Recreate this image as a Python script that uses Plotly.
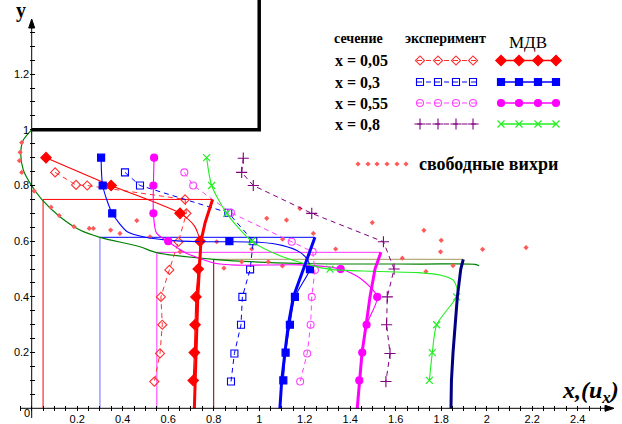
import plotly.graph_objects as go

# ---------------- data ----------------
LEVELS = [0.9, 0.8, 0.7, 0.6, 0.5, 0.4, 0.3, 0.2, 0.1]

MDV_005_X = [0.063, 0.349, 0.652, 0.740, 0.732, 0.722, 0.718, 0.715, 0.710]
MDV_03_X = [0.305, 0.312, 0.354, 0.869, 1.223, 1.157, 1.135, 1.116, 1.106]
MDV_055_X = [0.538, 0.535, 0.535, 0.600, 1.358, 1.519, 1.472, 1.453, 1.440]
MDV_08_X = [0.769, 0.791, 0.857, 0.967, 1.311, 1.868, 1.780, 1.761, 1.748]

MDV_005_CX = [0.063, 0.349, 0.652, 0.715, 0.740, 0.732, 0.722, 0.718, 0.715, 0.710]
MDV_005_CY = [0.900, 0.800, 0.700, 0.655, 0.600, 0.500, 0.400, 0.300, 0.200, 0.100]
MDV_03_CX = [0.305, 0.312, 0.354, 0.420, 0.490, 0.593, 0.740, 0.869, 1.000, 1.100, 1.180, 1.215, 1.223, 1.157, 1.135, 1.116, 1.106]
MDV_03_CY = [0.900, 0.800, 0.700, 0.634, 0.616, 0.604, 0.598, 0.598, 0.596, 0.585, 0.560, 0.530, 0.500, 0.400, 0.300, 0.200, 0.100]
MDV_055_CX = [0.538, 0.535, 0.535, 0.548, 0.600, 0.680, 0.800, 0.900, 1.180, 1.358, 1.444, 1.519, 1.472, 1.453, 1.440]
MDV_055_CY = [0.900, 0.800, 0.700, 0.630, 0.598, 0.557, 0.522, 0.514, 0.515, 0.500, 0.467, 0.400, 0.300, 0.200, 0.100]
MDV_08_CX = [0.769, 0.791, 0.857, 0.967, 1.100, 1.220, 1.311, 1.500, 1.700, 1.800, 1.853, 1.871, 1.868, 1.780, 1.761, 1.748]
MDV_08_CY = [0.900, 0.800, 0.700, 0.600, 0.545, 0.515, 0.499, 0.492, 0.487, 0.478, 0.460, 0.425, 0.400, 0.300, 0.200, 0.100]

EXP_005_X = [0.103, 0.195, 0.244, 0.674, 0.680, 0.645, 0.605, 0.568, 0.574, 0.564, 0.539]
EXP_005_Y = [0.847, 0.802, 0.800, 0.750, 0.700, 0.598, 0.497, 0.400, 0.300, 0.197, 0.096]
EXP_03_X = [0.410, 0.476, 0.864, 0.974, 0.960, 0.926, 0.920, 0.891, 0.876]
EXP_03_Y = [0.847, 0.800, 0.702, 0.600, 0.499, 0.400, 0.300, 0.197, 0.096]
EXP_055_X = [0.671, 0.710, 0.876, 1.143, 1.235, 1.245, 1.231, 1.226, 1.211, 1.180]
EXP_055_Y = [0.847, 0.800, 0.702, 0.598, 0.562, 0.497, 0.400, 0.300, 0.197, 0.096]
EXP_08_X = [0.930, 0.923, 0.974, 1.231, 1.546, 1.593, 1.563, 1.560, 1.575, 1.557]
EXP_08_Y = [0.898, 0.847, 0.800, 0.700, 0.598, 0.500, 0.400, 0.300, 0.197, 0.096]

PROF_005_X = [0.715, 0.718, 0.722, 0.726, 0.730, 0.737, 0.744, 0.762, 0.781, 0.795]
PROF_005_Y = [0.000, 0.100, 0.200, 0.300, 0.400, 0.500, 0.600, 0.666, 0.712, 0.750]
PROF_03_X = [1.091, 1.099, 1.113, 1.128, 1.150, 1.194, 1.245]
PROF_03_Y = [0.000, 0.100, 0.200, 0.300, 0.400, 0.500, 0.614]
PROF_055_X = [1.431, 1.440, 1.452, 1.470, 1.487, 1.509, 1.535]
PROF_055_Y = [0.000, 0.100, 0.200, 0.300, 0.400, 0.500, 0.560]
PROF_08_X = [1.843, 1.845, 1.852, 1.860, 1.871, 1.886, 1.897]
PROF_08_Y = [0.000, 0.100, 0.200, 0.300, 0.400, 0.500, 0.535]

SECTIONS = [0.05, 0.3, 0.55, 0.8]
SECTION_TOPS = [0.750, 0.614, 0.560, 0.535]
SECTION_ENDS = [0.795, 1.245, 1.535, 1.897]

STREAM_X = [0.0, -0.037, -0.048, -0.037, -0.007, 0.044, 0.124, 0.212, 0.300, 0.476, 0.549, 0.800, 1.180, 1.707, 1.949, 1.967]
STREAM_Y = [1.0, 0.963, 0.916, 0.856, 0.808, 0.750, 0.688, 0.640, 0.614, 0.580, 0.559, 0.535, 0.520, 0.518, 0.517, 0.512]

WALL_X = [0.0, 1.0, 1.0]
WALL_Y = [1.0, 1.0, 1.47]

VORT_X = [-0.044, -0.051, -0.054, -0.044, 0.011, 0.085, 0.121, 0.186, 0.253, 0.271, 0.347, 0.388, 0.462, 0.520,
          0.652, 0.813, 0.845, 0.923, 0.967, 1.040, 1.033, 1.120, 1.102, 1.103, 1.179, 1.238, 1.336, 1.497,
          1.629, 1.724, 1.800, 1.797, 1.733, 1.852, 1.982, 2.173]
VORT_Y = [0.954, 0.919, 0.889, 0.847, 0.780, 0.722, 0.692, 0.652, 0.646, 0.646, 0.640, 0.628, 0.674, 0.616,
          0.562, 0.598, 0.503, 0.526, 0.572, 0.526, 0.682, 0.676, 0.511, 0.607, 0.717, 0.628, 0.572, 0.667,
          0.539, 0.639, 0.603, 0.562, 0.491, 0.512, 0.571, 0.577]

X_TICK_VALUES = [0.2, 0.4, 0.6, 0.8, 1.0, 1.2, 1.4, 1.6, 1.8, 2.0, 2.2, 2.4]
X_TICK_LABELS = ["0.2", "0.4", "0.6", "0.8", "1", "1.2", "1.4", "1.6", "1.8", "2", "2.2", "2.4"]
Y_TICK_VALUES = [0.2, 0.4, 0.6, 0.8, 1.0, 1.2]
Y_TICK_LABELS = ["0.2", "0.4", "0.6", "0.8", "1", "1.2"]

LEGEND_SECTIONS = ["x = 0,05", "x = 0,3", "x = 0,55", "x = 0,8"]

# ---------------- layout geometry ----------------
W, H = 622, 424
X0_PX, X_SCALE = 31.7, 227.5
Y0_PX, Y_SCALE = 408.3, 278.5


def xr(px):
    return (px - X0_PX) / X_SCALE


def yr(py):
    return (Y0_PX - py) / Y_SCALE


SERIF = "Liberation Serif, Times New Roman, serif"
SANS = "Liberation Sans, Arial, sans-serif"

RED, BLUE, MAG, PURP, GREEN = "#ff0000", "#0000ff", "#ff00ff", "#800080", "#22ee22"
EXP_RED, EXP_MAG = "#ff3030", "#ff40ff"
DASH = "5px,4px"

fig = go.Figure()

vcols = ["#ff0000", "#6a6aff", "#ff33ff", "#800000"]
hcols = ["#ff0000", "#0000ff", "#ff33ff", "#a09a55"]
for s, t, e, vc, hc in zip(SECTIONS, SECTION_TOPS, SECTION_ENDS, vcols, hcols):
    fig.add_trace(go.Scatter(x=[s, s], y=[0, t], mode="lines", line=dict(color=vc, width=1)))
    fig.add_trace(go.Scatter(x=[s, e], y=[t, t], mode="lines", line=dict(color=hc, width=1)))

fig.add_trace(go.Scatter(x=STREAM_X, y=STREAM_Y, mode="lines",
                         line=dict(color="#008000", width=1.2, shape="spline", smoothing=0.8)))

fig.add_trace(go.Scatter(x=VORT_X, y=VORT_Y, mode="markers",
                         marker=dict(symbol="diamond", size=4, color="#ff5a5a")))

exp_specs = [
    (EXP_005_X, EXP_005_Y, EXP_RED, "diamond-open", 7),
    (EXP_03_X, EXP_03_Y, BLUE, "square-open", 7),
    (EXP_055_X, EXP_055_Y, EXP_MAG, "circle-open", 7),
    (EXP_08_X, EXP_08_Y, PURP, "cross-thin-open", 8),
]
for xs, ys, c, sym, sz in exp_specs:
    fig.add_trace(go.Scatter(x=xs, y=ys, mode="lines+markers",
                             line=dict(color=c, width=1, dash=DASH),
                             marker=dict(symbol=sym, size=sz, color=c, line=dict(color=c, width=1.1))))

mdv_specs = [
    (MDV_005_CX, MDV_005_CY, MDV_005_X, RED, "diamond", 8),
    (MDV_03_CX, MDV_03_CY, MDV_03_X, BLUE, "square", 7),
    (MDV_055_CX, MDV_055_CY, MDV_055_X, MAG, "circle", 7),
    (MDV_08_CX, MDV_08_CY, MDV_08_X, GREEN, "x-thin-open", 7),
]
for cx, cy, mx, c, sym, sz in mdv_specs:
    fig.add_trace(go.Scatter(x=cx, y=cy, mode="lines",
                             line=dict(color=c, width=1.1, shape="spline", smoothing=0.7)))
    fig.add_trace(go.Scatter(x=mx, y=LEVELS, mode="markers",
                             marker=dict(symbol=sym, size=sz, color=c, line=dict(color=c, width=1.2))))

for xs, ys, c in [(PROF_005_X, PROF_005_Y, RED), (PROF_03_X, PROF_03_Y, BLUE),
                  (PROF_055_X, PROF_055_Y, MAG), (PROF_08_X, PROF_08_Y, "#000080")]:
    fig.add_trace(go.Scatter(x=xs, y=ys, mode="lines", line=dict(color=c, width=3)))

fig.add_trace(go.Scatter(x=WALL_X, y=WALL_Y, mode="lines", line=dict(color="black", width=3.5)))

# ---------------- legend drawn on a pixel overlay axis ----------------
LEG_ROWS_Y = [60.5, 82, 103, 124]
LEG_EXP_X = [420, 438, 456, 473]
LEG_EXP_LINE = [417, 477]
LEG_MDV_X = [501, 519, 538, 556]
LEG_MDV_LINE = [500, 557]
LEG_VORT_X = [358, 368, 377, 387, 397, 406]
LEG_VORT_Y = 164

for ry, (_, _, c, sym, sz) in zip(LEG_ROWS_Y, exp_specs):
    fig.add_trace(go.Scatter(x=LEG_EXP_LINE, y=[ry, ry], mode="lines", xaxis="x3", yaxis="y3",
                             line=dict(color=c, width=1, dash=DASH)))
    fig.add_trace(go.Scatter(x=LEG_EXP_X, y=[ry] * 4, mode="markers", xaxis="x3", yaxis="y3",
                             marker=dict(symbol=sym, size=sz, color=c, line=dict(color=c, width=1.1))))
for ry, (_, _, _, c, sym, sz) in zip(LEG_ROWS_Y, mdv_specs):
    fig.add_trace(go.Scatter(x=LEG_MDV_LINE, y=[ry, ry], mode="lines", xaxis="x3", yaxis="y3",
                             line=dict(color=c, width=1.5)))
    fig.add_trace(go.Scatter(x=LEG_MDV_X, y=[ry] * 4, mode="markers", xaxis="x3", yaxis="y3",
                             marker=dict(symbol=sym, size=sz, color=c, line=dict(color=c, width=1.2))))
fig.add_trace(go.Scatter(x=LEG_VORT_X, y=[LEG_VORT_Y] * len(LEG_VORT_X), mode="markers",
                         xaxis="x3", yaxis="y3", marker=dict(symbol="diamond", size=4, color="#ff5a5a")))


def px_ann(text, x, y, size, bold=False, italic=False, family=SERIF, xanchor="center"):
    if bold:
        text = "<b>" + text + "</b>"
    if italic:
        text = "<i>" + text + "</i>"
    return dict(text=text, x=x / W, y=1 - y / H, xref="paper", yref="paper", showarrow=False,
                xanchor=xanchor, yanchor="middle", font=dict(family=family, size=size, color="black"))


anns = [
    px_ann("сечение", 358, 38, 14, bold=True),
    px_ann("эксперимент", 445, 38, 14, bold=True),
    px_ann("МДВ", 528, 42, 17),
    px_ann("свободные вихри", 417, 164, 18, bold=True, xanchor="left"),
    px_ann("y", 21, 11, 20, bold=True),
    px_ann("x,(u<sub>x</sub>)", 590, 392, 24, bold=True, italic=True),
    px_ann("0", 27, 413, 11, family=SANS),
]
for lab, ry in zip(LEGEND_SECTIONS, LEG_ROWS_Y):
    anns.append(px_ann(lab, 333, ry, 16, bold=True, xanchor="left"))

x_minor = [round(i * 0.05, 2) for i in range(-1, 51)]
y_minor = [round(i * 0.05, 2) for i in range(1, 28)]

xa_tip, xa_len, xa_half = 614, 9, 3
ya_tip = 19
arrow_x = "M {:.5f} {:.5f} L {:.5f} {:.5f} L {:.5f} {:.5f} Z".format(
    xr(xa_tip), 0, xr(xa_tip - xa_len), xa_half / Y_SCALE, xr(xa_tip - xa_len), -xa_half / Y_SCALE)
arrow_y = "M {:.5f} {:.5f} L {:.5f} {:.5f} L {:.5f} {:.5f} Z".format(
    0, yr(ya_tip), -xa_half / X_SCALE, yr(ya_tip + xa_len), xa_half / X_SCALE, yr(ya_tip + xa_len))

tick_common = dict(ticks="inside", ticklen=5, tickwidth=1, tickcolor="black",
                   tickfont=dict(family=SANS, size=11, color="black"), automargin=False,
                   showgrid=False, zeroline=False, showline=False, anchor="free", domain=[0, 1])

fig.update_layout(
    width=W, height=H,
    margin=dict(l=0, r=0, t=0, b=0, pad=0),
    paper_bgcolor="white", plot_bgcolor="white",
    showlegend=False,
    annotations=anns,
    shapes=[
        dict(type="line", xref="x", yref="y", x0=0, x1=0, y0=yr(418), y1=yr(22), line=dict(color="black", width=1)),
        dict(type="line", xref="x", yref="y", x0=xr(20), x1=xr(608), y0=0, y1=0, line=dict(color="black", width=1)),
        dict(type="path", xref="x", yref="y", path=arrow_x, fillcolor="black", line=dict(color="black", width=1)),
        dict(type="path", xref="x", yref="y", path=arrow_y, fillcolor="black", line=dict(color="black", width=1)),
    ],
    xaxis=dict(range=[xr(0), xr(W)], position=(H - Y0_PX - 2.5) / H,
               tickmode="array", tickvals=X_TICK_VALUES, ticktext=X_TICK_LABELS,
               minor=dict(tickmode="array", tickvals=x_minor, ticks="inside", ticklen=5,
                          tickwidth=1, tickcolor="black", showgrid=False),
               **tick_common),
    yaxis=dict(range=[yr(H), yr(0)], position=(X0_PX - 2.5) / W,
               tickmode="array", tickvals=Y_TICK_VALUES, ticktext=Y_TICK_LABELS,
               minor=dict(tickmode="array", tickvals=y_minor, ticks="inside", ticklen=5,
                          tickwidth=1, tickcolor="black", showgrid=False),
               **tick_common),
    xaxis3=dict(range=[0, W], overlaying="x", anchor="y3", domain=[0, 1],
                showticklabels=False, ticks="", showline=False, showgrid=False, zeroline=False),
    yaxis3=dict(range=[H, 0], overlaying="y", anchor="x3", domain=[0, 1], side="right",
                showticklabels=False, ticks="", showline=False, showgrid=False, zeroline=False),
)

fig.write_html("out.html", config={"displayModeBar": False},
               post_script="document.body.style.margin='0';document.body.style.overflow='hidden';")
